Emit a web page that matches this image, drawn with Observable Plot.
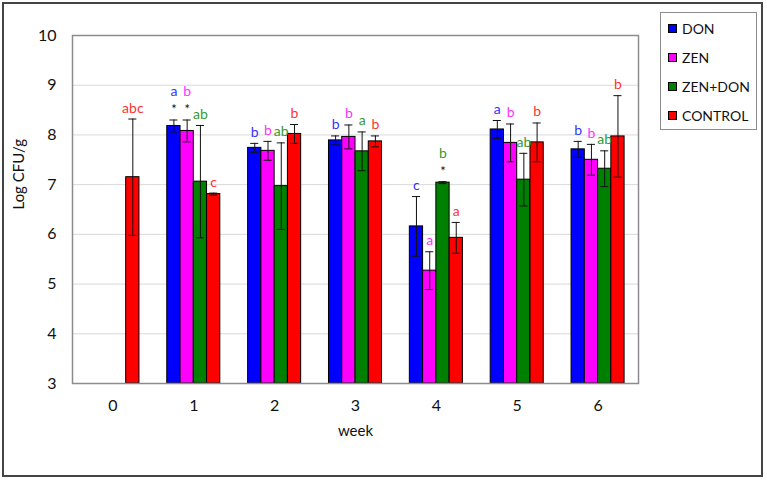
<!DOCTYPE html>
<html>
<head>
<meta charset="utf-8">
<script src="https://cdn.jsdelivr.net/npm/d3@7"></script>
<script src="https://cdn.jsdelivr.net/npm/@observablehq/plot@0.6"></script>
<style>
  html, body { margin: 0; padding: 0; background: #fff; }
  body { width: 767px; height: 480px; position: relative; overflow: hidden; font-family: Lato, "Open Sans", sans-serif; }
  #border { position: absolute; left: 2px; top: 2px; width: 757px; height: 471px; border: 2px solid #444; pointer-events: none; }
  #chart { position: absolute; left: 0; top: 0; }
  #legend { position: absolute; left: 660px; top: 12px; width: 97px; height: 118px; border: 1px solid #8c8c8c; background: #fff; box-sizing: border-box; }
  .item { position: absolute; left: 7px; height: 16px; display: flex; align-items: center; font-size: 14px; color: #111; }
  .sw { width: 9px; height: 9px; border: 1px solid #000; margin-right: 5px; box-sizing: border-box; }
</style>
</head>
<body>
<div id="chart"></div>
<div id="legend"></div>
<div id="border"></div>
<script>
const weeks = [0, 1, 2, 3, 4, 5, 6];
const seriesNames = ["DON", "ZEN", "ZEN+DON", "CONTROL"];
const barColors = ["#0000ff", "#ff00ff", "#008000", "#ff0000"];
const labelColors = ["#3333ff", "#ff33ff", "#339933", "#ff3333"];

const donMean = [null, 8.18, 7.74, 7.89, 6.16, 8.11, 7.71];
const donErr  = [null, 0.12, 0.09, 0.09, 0.60, 0.18, 0.16];
const zenMean = [null, 8.08, 7.68, 7.96, 5.27, 7.84, 7.50];
const zenErr  = [null, 0.22, 0.19, 0.24, 0.38, 0.38, 0.31];
const mixMean = [null, 7.06, 6.97, 7.67, 7.04, 7.10, 7.32];
const mixErr  = [null, 1.13, 0.87, 0.39, 0.02, 0.53, 0.36];
const ctlMean = [7.15, 6.81, 8.02, 7.87, 5.93, 7.85, 7.97];
const ctlErr  = [1.17, 0.02, 0.19, 0.11, 0.31, 0.39, 0.82];

const donLetters = [null, "a", "b", "b", "c", "a", "b"];
const zenLetters = [null, "b", "b", "b", "a", "b", "b"];
const mixLetters = [null, "ab", "ab", "a", "b", "ab", "ab"];
const ctlLetters = ["abc", "c", "b", "b", "a", "b", "b"];

const donStar = [false, true, false, false, false, false, false];
const zenStar = [false, true, false, false, false, false, false];
const mixStar = [false, false, false, false, true, false, false];
const ctlStar = [false, false, false, false, false, false, false];

const yTicks = [3, 4, 5, 6, 7, 8, 9, 10];
const gridValues = [4, 5, 6, 7, 8, 9];
const xTitle = "week";
const yTitle = "Log CFU/g";

// layout within a week group (in week units)
const groupWidth = 0.656;
const barW = groupWidth / seriesNames.length;
const capHalf = 0.05;

const means = [donMean, zenMean, mixMean, ctlMean];
const errs = [donErr, zenErr, mixErr, ctlErr];
const letters = [donLetters, zenLetters, mixLetters, ctlLetters];
const stars = [donStar, zenStar, mixStar, ctlStar];

const rows = [];
seriesNames.forEach((s, j) => {
  weeks.forEach((w, i) => {
    const v = means[j][i];
    if (v == null) return;
    const x1 = w - groupWidth / 2 + j * barW;
    rows.push({
      series: s, j, week: w, value: v, err: errs[j][i],
      x1, x2: x1 + barW, xc: x1 + barW / 2,
      letter: letters[j][i], star: stars[j][i]
    });
  });
});

const chart = Plot.plot({
  width: 767,
  height: 480,
  marginLeft: 72,
  marginRight: 129,
  marginTop: 35,
  marginBottom: 97,
  style: { fontFamily: "Lato, 'Open Sans', sans-serif", background: "transparent", color: "#111" },
  x: { domain: [-0.5, 6.5] },
  y: { domain: [3, 10] },
  color: { domain: seriesNames, range: barColors },
  marks: [
    Plot.ruleY(gridValues, { stroke: "#d9d9d9", strokeWidth: 1 }),
    Plot.rectY(rows, { x1: "x1", x2: "x2", y1: 3, y2: "value", fill: "series", stroke: "#000", strokeWidth: 1 }),
    Plot.ruleX(rows, { x: "xc", y1: d => d.value - d.err, y2: d => d.value + d.err, stroke: "#111", strokeWidth: 1 }),
    Plot.ruleY(rows, { y: d => d.value + d.err, x1: d => d.xc - capHalf, x2: d => d.xc + capHalf, stroke: "#111", strokeWidth: 1 }),
    Plot.ruleY(rows, { y: d => d.value - d.err, x1: d => d.xc - capHalf, x2: d => d.xc + capHalf, stroke: "#111", strokeWidth: 1 }),
    Plot.text(rows.filter(d => d.star), { x: "xc", y: d => d.value + d.err, text: () => "*", dy: -10, fontSize: 13, fill: "#111" }),
    Plot.text(rows.filter(d => !d.star), { x: "xc", y: d => d.value + d.err, text: "letter", dy: -11, fontSize: 14, fill: d => labelColors[d.j] }),
    Plot.text(rows.filter(d => d.star), { x: "xc", y: d => d.value + d.err, text: "letter", dy: -28, fontSize: 14, fill: d => labelColors[d.j] }),
    Plot.axisX({ ticks: weeks, tickSize: 0, tickPadding: 16, fontSize: 16, tickFormat: d => String(d), label: null }),
    Plot.axisY({ ticks: yTicks, tickSize: 0, tickPadding: 16, fontSize: 16, tickFormat: d => String(d), label: null }),
    Plot.text([xTitle], { frameAnchor: "bottom", dy: 52, fontSize: 15, fill: "#111" }),
    Plot.text([yTitle], { frameAnchor: "left", dx: -53, rotate: -90, fontSize: 15, fill: "#111" }),
    Plot.frame({ stroke: "#8c8c8c", strokeWidth: 1.5 })
  ]
});
document.getElementById("chart").appendChild(chart);

const legend = document.getElementById("legend");
seriesNames.forEach((s, j) => {
  const it = document.createElement("div");
  it.className = "item";
  it.style.top = (7 + j * 29.3) + "px";
  const sw = document.createElement("div");
  sw.className = "sw";
  sw.style.background = barColors[j];
  const tx = document.createElement("span");
  tx.textContent = s;
  it.appendChild(sw);
  it.appendChild(tx);
  legend.appendChild(it);
});
</script>
</body>
</html>
